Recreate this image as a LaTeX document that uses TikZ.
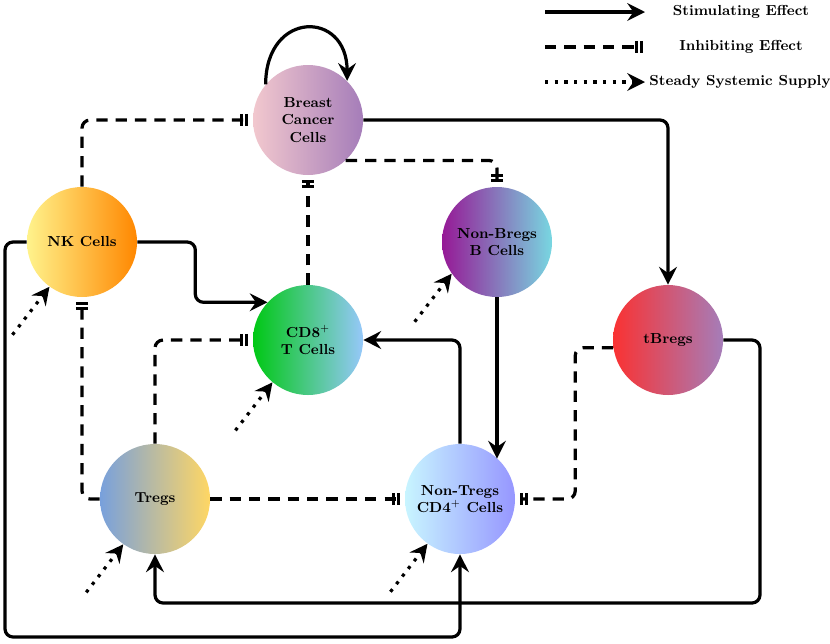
\documentclass[tikz,border=0pt]{standalone}
\usepackage{amsmath,amssymb}
\usetikzlibrary{arrows.meta}

\definecolor{bcL}{RGB}{242,200,206}
\definecolor{bcR}{RGB}{165,125,185}
\definecolor{nkL}{RGB}{255,243,140}
\definecolor{nkR}{RGB}{255,135,0}
\definecolor{nbL}{RGB}{150,25,150}
\definecolor{nbR}{RGB}{120,215,225}
\definecolor{cdL}{RGB}{0,200,20}
\definecolor{cdR}{RGB}{150,200,250}
\definecolor{tbL}{RGB}{250,50,50}
\definecolor{tbR}{RGB}{165,125,185}
\definecolor{trL}{RGB}{120,160,220}
\definecolor{trR}{RGB}{255,215,100}
\definecolor{ntL}{RGB}{200,245,255}
\definecolor{ntR}{RGB}{150,150,255}

\tikzset{
  cell/.style={circle,minimum size=68.2pt,inner sep=0pt,align=center,font=\small\bfseries},
  stim/.style={-{Stealth[length=11pt,width=11pt,inset=3.8pt]},line width=2pt,rounded corners=5pt},
  inhib/.style={-{Bar[width=7.5pt,line width=1.8pt,sep=1.4pt]Bar[width=7.5pt,line width=1.8pt].},line width=2pt,
    dash pattern=on 7pt off 5pt,rounded corners=5pt,shorten >=3pt},
  supply/.style={-{Stealth[length=11pt,width=11pt,inset=3.8pt]},line width=2pt,dash pattern=on 2pt off 4pt},
  legtext/.style={font=\small\bfseries}
}

\begin{document}
\begin{tikzpicture}[x=0.62pt,y=-0.62pt]
\useasboundingbox (0,0) rectangle (830,643);
\node[cell,left color=bcL,right color=bcR] (bc) at (308,120) {Breast\\Cancer\\Cells};
\node[cell,left color=nkL,right color=nkR] (nk) at (82,242) {NK Cells};
\node[cell,left color=nbL,right color=nbR] (nb) at (497,242) {Non-Bregs\\B Cells};
\node[cell,left color=cdL,right color=cdR] (cd) at (308,340) {CD8$^+$\\T Cells};
\node[cell,left color=tbL,right color=tbR] (tb) at (668,340) {tBregs};
\node[cell,left color=trL,right color=trR] (tr) at (155,499) {Tregs};
\node[cell,left color=ntL,right color=ntR] (nt) at (460,499) {Non-Tregs\\CD4$^+$ Cells};
\draw[stim] (bc.140) .. controls (266,10) and (347,10) .. (bc.45);
\draw[stim] (bc.east) -| (tb.north);
\draw[inhib] (nk.north) |- (bc.west);
\draw[inhib] (bc.-47) -| (nb.north);
\draw[inhib] (cd.north) -- (bc.south);
\draw[stim] (nk.east) -- ++(58,0) |- (cd.137);
\draw[stim] (nb.south) -- (nb.south |- nt.47.7);
\draw[stim] (nt.north) |- (cd.east);
\draw[inhib] (tr.north) |- (cd.west);
\draw[inhib] (tr.west) -| (nk.south);
\draw[inhib] (tr.east) -- (nt.west);
\draw[inhib] (tb.188) -- ++(-38,0) |- (nt.east);
\draw[stim] (tb.east) -| (760,603) -| (tr.south);
\draw[stim] (nk.west) -| (5,637) -| (nt.south);
\foreach \n/\a in {nk/234,nb/215,cd/230,tr/235,nt/234}
  \draw[supply] ([shift={(-37,48)}]\n.\a) -- (\n.\a);
\coordinate (stimA) at (545,12);
\coordinate (stimB) at (645,12);
\coordinate (inhA) at (545,47);
\coordinate (inhB) at (648,47);
\coordinate (supA) at (545,82);
\coordinate (supB) at (645,82);
\draw[stim] (stimA) -- (stimB);
\draw[inhib] (inhA) -- (inhB);
\draw[supply] (supA) -- (supB);
\node[legtext] (stimT) at (741,12) {Stimulating Effect};
\node[legtext] (inhT) at (741,47) {Inhibiting Effect};
\node[legtext] (supT) at (740,82) {Steady Systemic Supply};
\end{tikzpicture}
\end{document}
